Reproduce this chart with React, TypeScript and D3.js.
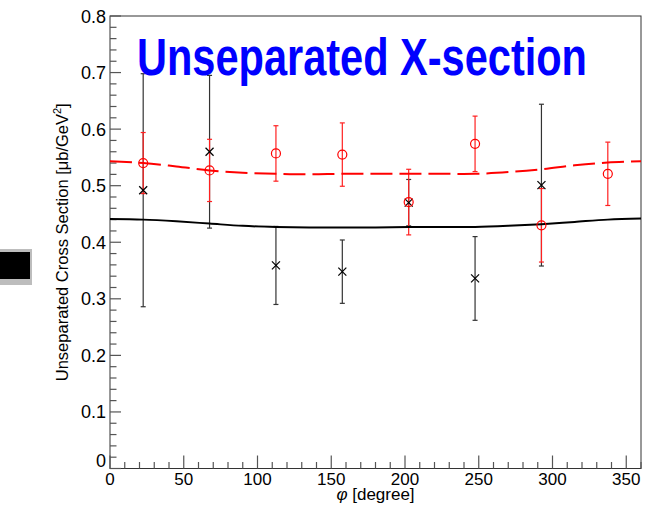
import React from 'react';
import * as d3 from 'd3';

// ---- data ----
const blackPhi = [22.5, 67.5, 112.5, 157.5, 202.5, 247.5, 292.5];
const blackValues = [0.492, 0.560, 0.359, 0.348, 0.470, 0.336, 0.501];
const blackErrors = [0.206, 0.135, 0.069, 0.056, 0.041, 0.074, 0.143];

const redPhi = [22.5, 67.5, 112.5, 157.5, 202.5, 247.5, 292.5, 337.5];
const redValues = [0.540, 0.527, 0.557, 0.555, 0.471, 0.574, 0.430, 0.521];
const redErrors = [0.054, 0.055, 0.049, 0.056, 0.058, 0.049, 0.065, 0.056];

const curvePhi = [0, 22.5, 45, 67.5, 90, 112.5, 135, 157.5, 180, 202.5, 225, 247.5, 270, 292.5, 315, 337.5, 360];
const redCurve = [0.543, 0.540, 0.534, 0.527, 0.523, 0.521, 0.520, 0.521, 0.521, 0.521, 0.521, 0.521, 0.524, 0.529, 0.536, 0.541, 0.543];
const blackCurve = [0.441, 0.440, 0.437, 0.433, 0.429, 0.427, 0.426, 0.426, 0.426, 0.427, 0.427, 0.427, 0.429, 0.432, 0.436, 0.440, 0.442];

const xTicks = [0, 50, 100, 150, 200, 250, 300, 350];
const xTickLabels = ['0', '50', '100', '150', '200', '250', '300', '350'];
const yTicks = [0, 0.1, 0.2, 0.3, 0.4, 0.5, 0.6, 0.7, 0.8];
const yTickLabels = ['0', '0.1', '0.2', '0.3', '0.4', '0.5', '0.6', '0.7', '0.8'];

const titleText = 'Unseparated X-section';
const xTitleSymbol = 'φ';
const xTitleRest = ' [degree]';
const yTitleMain = 'Unseparated Cross Section [μb/GeV';

const FONT = '"Liberation Sans", Arial, Helvetica, sans-serif';

export default function App() {
  const L = 110, R = 641, T = 16, B = 468.5;
  const x = d3.scaleLinear().domain([0, 360]).range([L, R]);
  const y = d3.scaleLinear().domain([0, 0.8]).range([B, T]);

  const xMinor = d3.range(0, 361, 10).filter((v) => v % 50 !== 0);
  const yMinor = d3.range(0, 41, 1).map((i) => i * 0.02).filter((_, i) => i % 5 !== 0);

  const line = d3
    .line<number>()
    .x((_, i) => x(curvePhi[i]))
    .y((d) => y(d))
    .curve(d3.curveCatmullRom);

  const tickColor = '#555';
  const cap = 2.5;
  const ms = 4;

  return (
    <svg
      width={645}
      height={514}
      style={{ position: 'absolute', left: 0, top: 0, background: '#fff' }}
      fontFamily={FONT}
    >
      <rect x={0} y={0} width={645} height={514} fill="#fff" />
      {/* left black box artefact */}
      <rect x={0} y={249} width={32} height={36} fill="#bdbdbd" />
      <rect x={0} y={252} width={30} height={27} fill="#000" />

      {/* frame */}
      <rect x={L} y={T} width={R - L} height={B - T} fill="none" stroke="#333" strokeWidth={1} />

      {/* x ticks */}
      {xTicks.map((t) => (
        <line key={'xt' + t} x1={x(t)} x2={x(t)} y1={B} y2={B - 13} stroke={tickColor} strokeWidth={1.2} />
      ))}
      {xMinor.map((t) => (
        <line key={'xm' + t} x1={x(t)} x2={x(t)} y1={B} y2={B - 6.5} stroke={tickColor} strokeWidth={1.2} />
      ))}
      {/* y ticks */}
      {yTicks.map((t) => (
        <line key={'yt' + t} x1={L} x2={L + 11} y1={y(t)} y2={y(t)} stroke={tickColor} strokeWidth={1.2} />
      ))}
      {yMinor.map((t, i) => (
        <line key={'ym' + i} x1={L} x2={L + 6.5} y1={y(t)} y2={y(t)} stroke={tickColor} strokeWidth={1.2} />
      ))}

      {/* tick labels */}
      {xTicks.map((t, i) => (
        <text key={'xl' + t} x={x(t)} y={485} fontSize={17} textAnchor="middle" fill="#000">
          {xTickLabels[i]}
        </text>
      ))}
      {yTicks.map((t, i) => (
        <text
          key={'yl' + t}
          x={106}
          y={(t === 0 ? y(t) - 8 : y(t)) + 6.5}
          fontSize={18}
          textAnchor="end"
          fill="#000"
        >
          {yTickLabels[i]}
        </text>
      ))}

      {/* axis titles */}
      <text x={(L + R) / 2} y={500} fontSize={17} textAnchor="middle" fill="#000">
        <tspan fontStyle="italic">{xTitleSymbol}</tspan>
        {xTitleRest}
      </text>
      <text transform={`translate(68, ${(T + B) / 2}) rotate(-90)`} fontSize={16.5} textAnchor="middle" fill="#000">
        {yTitleMain}
        <tspan dy={-7} fontSize={11}>2</tspan>
        <tspan dy={7}>]</tspan>
      </text>

      {/* error bars */}
      {blackPhi.map((p, i) => {
        const cx = x(p);
        const y1 = y(blackValues[i] + blackErrors[i]);
        const y2 = y(blackValues[i] - blackErrors[i]);
        return (
          <g key={'be' + i} stroke="#333" strokeWidth={1.2}>
            <line x1={cx} x2={cx} y1={y1} y2={y2} />
            <line x1={cx - cap} x2={cx + cap} y1={y1} y2={y1} />
            <line x1={cx - cap} x2={cx + cap} y1={y2} y2={y2} />
          </g>
        );
      })}
      {redPhi.map((p, i) => {
        const cx = x(p);
        const y1 = y(redValues[i] + redErrors[i]);
        const y2 = y(redValues[i] - redErrors[i]);
        return (
          <g key={'re' + i} stroke="#ff2020" strokeWidth={1.2}>
            <line x1={cx} x2={cx} y1={y1} y2={y2} />
            <line x1={cx - cap} x2={cx + cap} y1={y1} y2={y1} />
            <line x1={cx - cap} x2={cx + cap} y1={y2} y2={y2} />
          </g>
        );
      })}

      {/* curves */}
      <path d={line(blackCurve) || ''} fill="none" stroke="#000" strokeWidth={2} />
      <path d={line(redCurve) || ''} fill="none" stroke="#ff0000" strokeWidth={2} strokeDasharray="22 7" />

      {/* markers */}
      {blackPhi.map((p, i) => {
        const cx = x(p);
        const cy = y(blackValues[i]);
        return (
          <g key={'bm' + i} stroke="#000" strokeWidth={1.2}>
            <line x1={cx - ms} x2={cx + ms} y1={cy - ms} y2={cy + ms} />
            <line x1={cx - ms} x2={cx + ms} y1={cy + ms} y2={cy - ms} />
          </g>
        );
      })}
      {redPhi.map((p, i) => (
        <circle key={'rm' + i} cx={x(p)} cy={y(redValues[i])} r={4.5} fill="none" stroke="#ff0000" strokeWidth={1.2} />
      ))}

      {/* title */}
      <text
        x={137}
        y={75}
        fontSize={51}
        fontWeight="bold"
        fill="#0000ff"
        textLength={450}
        lengthAdjust="spacingAndGlyphs"
      >
        {titleText}
      </text>
    </svg>
  );
}
